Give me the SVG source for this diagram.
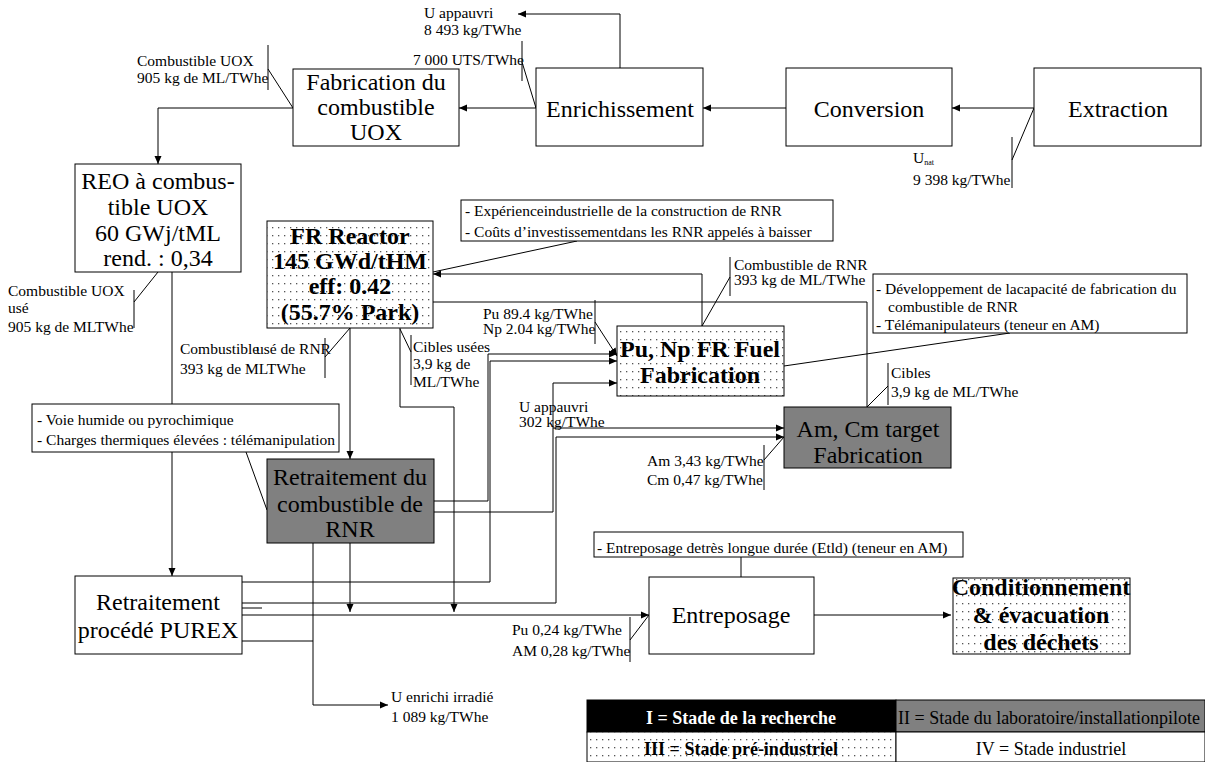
<svg xmlns="http://www.w3.org/2000/svg" width="1205" height="762" viewBox="0 0 1205 762" font-family="'Liberation Serif', 'Times New Roman', serif">
<defs>
<style>
text{font-family:'Liberation Serif','Times New Roman',serif}
.box{fill:#fff;stroke:#000;stroke-width:1}
.gray{fill:#808080;stroke:#000;stroke-width:1}
.dot{fill:url(#dots);stroke:#000;stroke-width:1}
.big{font-size:24px;text-anchor:middle;fill:#000}
.bigb{font-size:24px;font-weight:bold;text-anchor:middle;fill:#000}
.lbl{font-size:15.5px;fill:#000}
.leg{font-size:18px;fill:#000}
.conn path{fill:none;stroke:#000;stroke-width:1}
.arr{marker-end:url(#ah)}
</style>
<pattern id="dots" width="6" height="8" patternUnits="userSpaceOnUse">
<rect width="6" height="8" fill="#fff"/>
<rect x="2" y="3" width="1.3" height="1.3" fill="#555"/>
</pattern>
<marker id="ah" markerWidth="8" markerHeight="8" refX="8" refY="4" orient="auto" markerUnits="userSpaceOnUse">
<path d="M0,0.5 L8,4 L0,7.5 Z" fill="#000"/>
</marker>
</defs>
<rect width="1205" height="762" fill="#fff"/>

<g id="connectors" class="conn">
<path class="arr" d="M1034,108 H952"/>
<path class="arr" d="M786,108 H703"/>
<path class="arr" d="M536,108 H459"/>
<path class="arr" d="M620,68 V14 H518"/>
<path class="arr" d="M293,108 H158 V164"/>
<path class="arr" d="M172,272 V576"/>
<path class="arr" d="M350,328 V459"/>
<path class="arr" d="M400,328 V407 H454 V612"/>
<path class="arr" d="M350,543 V612"/>
<path class="arr" d="M313,543 V705 H388"/>
<path d="M242,641 H313"/>
<path class="arr" d="M242,615 H649"/>
<path d="M242,608 H262"/>
<path class="arr" d="M242,603 H556 V437 H784"/>
<path class="arr" d="M242,582 H490 V361 H617"/>
<path class="arr" d="M434,501 H488 V354 H617"/>
<path class="arr" d="M434,512 H553 V383 H617"/>
<path class="arr" d="M553,428 H784"/>
<path class="arr" d="M595,322 L617,356"/>
<path class="arr" d="M702,326 V274 H433"/>
<path d="M433,302 H867 V407"/>
<path class="arr" d="M814,615 H951"/>
<path d="M577,241 L433,272"/>
<path d="M1010,333 L784,366"/>
<path d="M246,452 L267,510"/>
<path d="M741,557 V577"/>
<path d="M522,41 V81 M522,62 L536,108"/>
<path d="M268,45 V90 M268,69 L293,108"/>
<path d="M1012,137 V188 M1012,160 L1034,108"/>
<path d="M134,290 V328 M134,302 L158,272"/>
<path d="M325,338 V378 M325,357 L350,328"/>
<path d="M411,335 V385 M400,329 L411,352"/>
<path d="M595,300 V344"/>
<path d="M730,257 V296 M730,277 L702,326"/>
<path d="M888,363 V405 M888,386 L867,407"/>
<path d="M764,445 V490 M764,460 L784,437"/>
<path d="M630,617 V662 M630,640 L649,615"/>
</g>

<g id="fabrication-uox">
<rect class="box" x="293" y="69" width="166" height="77"/>
<text class="big" x="376" y="90">Fabrication du</text>
<text class="big" x="376" y="115">combustible</text>
<text class="big" x="376" y="140">UOX</text>
</g>
<g id="enrichissement">
<rect class="box" x="536" y="68" width="167" height="78"/>
<text class="big" x="620" y="117">Enrichissement</text>
</g>
<g id="conversion">
<rect class="box" x="786" y="68" width="166" height="78"/>
<text class="big" x="869" y="117">Conversion</text>
</g>
<g id="extraction">
<rect class="box" x="1034" y="68" width="167" height="78"/>
<text class="big" x="1118" y="117">Extraction</text>
</g>
<g id="reo">
<rect class="box" x="75" y="164" width="166" height="108"/>
<text class="big" x="158" y="189">REO à combus-</text>
<text class="big" x="158" y="215">tible UOX</text>
<text class="big" x="158" y="241">60 GWj/tML</text>
<text class="big" x="158" y="266">rend. : 0,34</text>
</g>
<g id="fr-reactor">
<rect class="dot" x="267" y="221" width="166" height="107"/>
<text class="bigb" x="350" y="244">FR Reactor</text>
<text class="bigb" x="350" y="269">145 GWd/tHM</text>
<text class="bigb" x="350" y="294">eff: 0.42</text>
<text class="bigb" x="350" y="320">(55.7% Park)</text>
</g>
<g id="note-rnr">
<rect class="box" x="461" y="200" width="372" height="41"/>
<text class="lbl" x="465" y="216">- Expérienceindustrielle de la construction de RNR</text>
<text class="lbl" x="465" y="237">- Coûts d’investissementdans les RNR appelés à baisser</text>
</g>
<g id="pu-np-fab">
<rect class="dot" x="617" y="326" width="167" height="70"/>
<text class="bigb" x="700" y="357">Pu, Np FR Fuel</text>
<text class="bigb" x="700" y="383">Fabrication</text>
</g>
<g id="note-fab">
<rect class="box" x="873" y="274" width="314" height="59"/>
<text class="lbl" x="876" y="294">- Développement de lacapacité de fabrication du</text>
<text class="lbl" x="888" y="312">combustible de RNR</text>
<text class="lbl" x="876" y="330">- Télémanipulateurs (teneur en AM)</text>
</g>
<g id="amcm-fab">
<rect class="gray" x="784" y="407" width="167" height="61"/>
<text class="big" x="868" y="437">Am, Cm target</text>
<text class="big" x="868" y="463">Fabrication</text>
</g>
<g id="note-retraitement">
<rect class="box" x="32" y="404" width="307" height="48"/>
<text class="lbl" x="37" y="425">- Voie humide ou pyrochimique</text>
<text class="lbl" x="37" y="445">- Charges thermiques élevées : télémanipulation</text>
</g>
<g id="retraitement-rnr">
<rect class="gray" x="267" y="459" width="167" height="84"/>
<text class="big" x="350" y="485">Retraitement du</text>
<text class="big" x="350" y="512">combustible de</text>
<text class="big" x="350" y="537">RNR</text>
</g>
<g id="purex">
<rect class="box" x="75" y="576" width="167" height="78"/>
<text class="big" x="158" y="610">Retraitement</text>
<text class="big" x="158" y="638">procédé PUREX</text>
</g>
<g id="note-entreposage">
<rect class="box" x="594" y="532" width="369" height="25"/>
<text class="lbl" x="597" y="553">- Entreposage detrès longue durée (Etld) (teneur en AM)</text>
</g>
<g id="entreposage">
<rect class="box" x="649" y="577" width="165" height="77"/>
<text class="big" x="731" y="623">Entreposage</text>
</g>
<g id="conditionnement">
<rect class="dot" x="953" y="578" width="177" height="76"/>
<text class="bigb" x="1041" y="595">Conditionnement</text>
<text class="bigb" x="1041" y="623">&amp; évacuation</text>
<text class="bigb" x="1041" y="650">des déchets</text>
</g>

<g id="labels">
<text class="lbl" x="424" y="18">U appauvri</text>
<text class="lbl" x="424" y="35">8 493 kg/TWhe</text>
<text class="lbl" x="524" y="65" text-anchor="end">7 000 UTS/TWhe</text>
<text class="lbl" x="137" y="66">Combustible UOX</text>
<text class="lbl" x="137" y="83">905 kg de ML/TWhe</text>
<text class="lbl" x="913" y="163">U<tspan font-size="8" dy="2">nat</tspan></text>
<text class="lbl" x="913" y="185">9 398 kg/TWhe</text>
<text class="lbl" x="8" y="296">Combustible UOX</text>
<text class="lbl" x="8" y="313">usé</text>
<text class="lbl" x="8" y="332">905 kg de MLTWhe</text>
<text class="lbl" x="180" y="354">Combustible</text>
<text class="lbl" x="256" y="354">usé de RNR</text>
<text class="lbl" x="180" y="374">393 kg de MLTWhe</text>
<text class="lbl" x="413" y="352">Cibles usées</text>
<text class="lbl" x="413" y="369">3,9 kg de</text>
<text class="lbl" x="413" y="387">ML/TWhe</text>
<text class="lbl" x="483" y="319">Pu 89.4 kg/TWhe</text>
<text class="lbl" x="483" y="334">Np 2.04 kg/TWhe</text>
<text class="lbl" x="734" y="270">Combustible de RNR</text>
<text class="lbl" x="734" y="285">393 kg de ML/TWhe</text>
<text class="lbl" x="891" y="378">Cibles</text>
<text class="lbl" x="891" y="397">3,9 kg de ML/TWhe</text>
<text class="lbl" x="519" y="412">U appauvri</text>
<text class="lbl" x="519" y="427">302 kg/TWhe</text>
<text class="lbl" x="647" y="466">Am 3,43 kg/TWhe</text>
<text class="lbl" x="647" y="485">Cm 0,47 kg/TWhe</text>
<text class="lbl" x="512" y="635">Pu 0,24 kg/TWhe</text>
<text class="lbl" x="512" y="656">AM 0,28 kg/TWhe</text>
<text class="lbl" x="391" y="702">U enrichi irradié</text>
<text class="lbl" x="391" y="722">1 089 kg/TWhe</text>
</g>

<g id="legend">
<rect x="587" y="700" width="309" height="32" fill="#000" stroke="#000"/>
<rect x="896" y="700" width="309" height="32" fill="#808080" stroke="#000"/>
<rect class="dot" x="587" y="732" width="309" height="30"/>
<rect class="box" x="896" y="732" width="309" height="30"/>
<text class="leg" x="741" y="724" text-anchor="middle" font-weight="bold" style="fill:#fff">I = Stade de la recherche</text>
<text class="leg" x="898" y="724">II = Stade du laboratoire/installationpilote</text>
<text class="leg" x="741" y="755" text-anchor="middle" font-weight="bold">III = Stade pré-industriel</text>
<text class="leg" x="1051" y="755" text-anchor="middle">IV = Stade industriel</text>
</g>
</svg>
